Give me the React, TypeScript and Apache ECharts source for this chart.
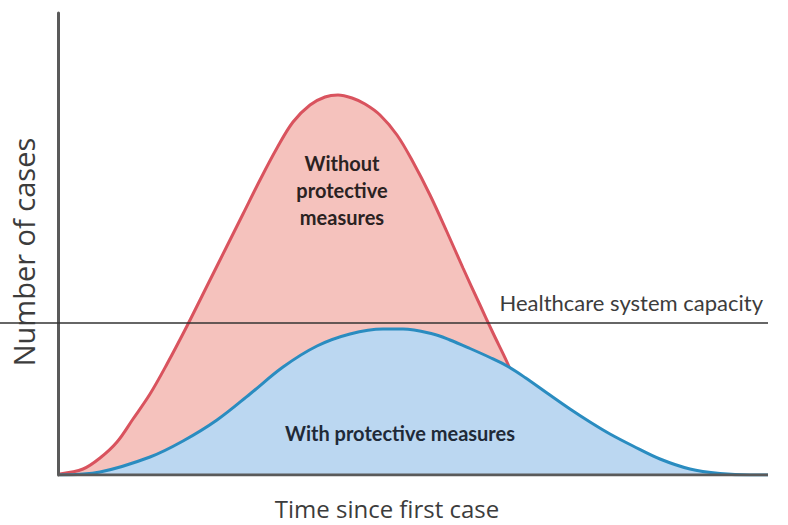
import React, { useEffect, useRef } from "react";
import * as echarts from "echarts";

// Time since first case (x) and number of cases (y)
const withoutX = [0.4, 5, 8.4, 11.8, 15, 18.4, 21.8, 25.8, 30.4, 33.8, 37, 40.4, 43.8, 47, 50.4, 53.4, 56, 58.8, 61.4, 64.4, 67.8, 71, 74.4, 77.8, 81, 84.4, 87, 89.8, 92.4, 96.4, 100.4, 105.4, 112.4];
const withoutY = [0.2, 1.2, 3.4, 6.6, 11.2, 16.2, 22.2, 29.8, 39, 45.8, 52.2, 59, 65.4, 70.6, 74, 75.6, 76, 75.4, 74.2, 72, 68, 62.6, 56, 48.6, 41.4, 34, 28.4, 22.6, 16.6, 9, 4.4, 1.6, 0.2];

const withX = [0.4, 8.4, 18.4, 25, 31.8, 38.4, 45, 51.8, 58.4, 65, 69, 75, 78.4, 82.4, 86.4, 89.8, 93.4, 97.8, 102.4, 106.4, 110.4, 115, 120.4, 126.4, 132.4, 138.4, 142];
const withY = [0, 0.6, 3.6, 6.8, 11, 16.2, 21.6, 25.8, 28.2, 29.2, 29.2, 28.2, 27, 25.3, 23.5, 21.8, 19.5, 16.4, 13.2, 10.6, 8.2, 5.8, 3.2, 1.2, 0.3, 0, 0];

const capacityValue = 30.4;
const timeStart = 0;
const timeEnd = 142;
const xMin = -11.6;
const xMax = 145;
const yMax = 92.4;

const xTitle = "Time since first case";
const yTitle = "Number of cases";
const capacityLabel = "Healthcare system capacity";
const withoutLabel = "Without\nprotective\nmeasures";
const withLabel = "With protective measures";

const zip = (xs: number[], ys: number[]) => xs.map((x, i) => [x, ys[i]]);

export default function App() {
  const ref = useRef<HTMLDivElement>(null);
  useEffect(() => {
    document.body.style.margin = "0";
    if (!ref.current) return;
    const chart = echarts.init(ref.current, null, { renderer: "svg" });
    const lato = "Lato, 'Open Sans', sans-serif";
    const open = "'Open Sans', Lato, sans-serif";
    chart.setOption({
      animation: false,
      backgroundColor: "#ffffff",
      grid: { left: 0, right: 5, top: 13, bottom: 50 },
      xAxis: {
        type: "value",
        min: xMin,
        max: xMax,
        axisLine: { show: false },
        axisTick: { show: false },
        axisLabel: { show: false },
        splitLine: { show: false },
      },
      yAxis: {
        type: "value",
        min: 0,
        max: yMax,
        axisLine: { show: true, onZero: true, lineStyle: { color: "#5a5a5a", width: 3 } },
        axisTick: { show: false },
        axisLabel: { show: false },
        splitLine: { show: false },
      },
      series: [
        {
          name: "Without protective measures",
          type: "line",
          data: zip(withoutX, withoutY),
          smooth: 0.35,
          showSymbol: false,
          lineStyle: { color: "#d9535e", width: 3 },
          areaStyle: { color: "#f5c2bd", opacity: 1 },
          z: 2,
        },
        {
          name: "With protective measures",
          type: "line",
          data: zip(withX, withY),
          smooth: 0.35,
          showSymbol: false,
          lineStyle: { color: "#2a8cc0", width: 3 },
          areaStyle: { color: "#bbd7f1", opacity: 1 },
          z: 3,
        },
        {
          name: "Time axis",
          type: "line",
          data: [[timeStart, 0], [timeEnd, 0]],
          showSymbol: false,
          lineStyle: { color: "#5a5a5a", width: 3 },
          z: 4,
        },
        {
          name: "Capacity",
          type: "line",
          data: [[xMin, capacityValue], [xMax - 3, capacityValue]],
          showSymbol: false,
          lineStyle: { color: "#333333", width: 1.3 },
          z: 5,
        },
      ],
      graphic: [
        {
          type: "text",
          x: 763,
          y: 302,
          style: { text: capacityLabel, font: `22px ${lato}`, fill: "#3c3c3c", textAlign: "right", textVerticalAlign: "middle" },
          z: 10,
        },
        {
          type: "text",
          x: 342,
          y: 190,
          style: {
            text: withoutLabel,
            font: `bold 20px ${lato}`,
            fill: "#2b2222",
            textAlign: "center",
            textVerticalAlign: "middle",
            lineHeight: 27,
          },
          z: 10,
        },
        {
          type: "text",
          x: 400,
          y: 433,
          style: {
            text: withLabel,
            font: `bold 20px ${lato}`,
            fill: "#1f2a38",
            textAlign: "center",
            textVerticalAlign: "middle",
          },
          z: 10,
        },
        {
          type: "text",
          x: 387,
          y: 508,
          style: { text: xTitle, font: `24px ${open}`, fill: "#3c3c3c", textAlign: "center", textVerticalAlign: "middle" },
          z: 10,
        },
        {
          type: "text",
          x: 23,
          y: 252,
          rotation: Math.PI / 2,
          style: { text: yTitle, font: `29px ${open}`, fill: "#3c3c3c", textAlign: "center", textVerticalAlign: "middle" },
          z: 10,
        },
      ],
    });
    return () => chart.dispose();
  }, []);
  return <div ref={ref} style={{ width: 788, height: 525 }} />;
}
